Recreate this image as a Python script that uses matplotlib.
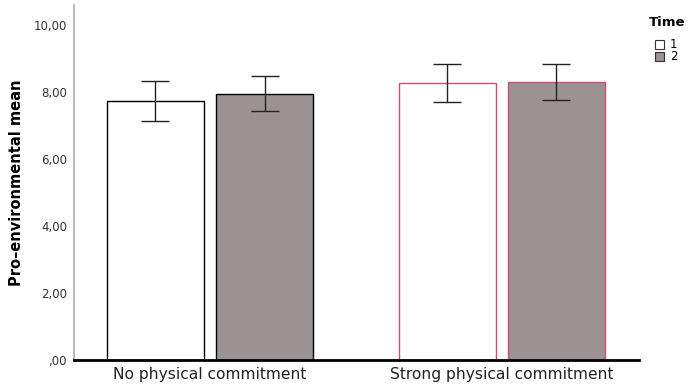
import matplotlib.pyplot as plt
import numpy as np
from matplotlib.patches import Rectangle

# group means and error half-widths per time point
groups = ['No physical commitment', 'Strong physical commitment']
times = ['1', '2']
mean_t1 = [7.73, 8.27]
mean_t2 = [7.95, 8.30]
err_t1 = [0.59, 0.58]
err_t2 = [0.53, 0.54]
yticks = [0, 2, 4, 6, 8, 10]
ytick_labels = [',00', '2,00', '4,00', '6,00', '8,00', '10,00']

fill_colors = ['white', '#9a9293']
edge_colors = ['black', '#cf4f72']

W, H = 689, 389
fig = plt.figure(figsize=(W / 100, H / 100), dpi=100)
ax = fig.add_axes([74 / W, 1 - 360 / H, 565 / W, 355 / H])

x = np.arange(len(groups))
width = 0.334
offset = 0.187

for i in range(len(groups)):
    ax.bar(x[i] - offset, mean_t1[i], width, color=fill_colors[0],
           edgecolor=edge_colors[i], linewidth=1)
    ax.bar(x[i] + offset, mean_t2[i], width, color=fill_colors[1],
           edgecolor=edge_colors[i], linewidth=1)

ax.errorbar(x - offset, mean_t1, yerr=err_t1, fmt='none', ecolor='#222222',
            elinewidth=1, capsize=10, capthick=1)
ax.errorbar(x + offset, mean_t2, yerr=err_t2, fmt='none', ecolor='#222222',
            elinewidth=1, capsize=10, capthick=1)

ax.set_xlim(-0.466, 1.470)
ax.set_ylim(0, 10.6)
ax.set_xticks(x)
ax.set_xticklabels(groups, fontsize=11.2, color='#222222')
ax.set_yticks(yticks)
ax.set_yticklabels(ytick_labels, fontsize=8.5, color='#333333')
ax.tick_params(axis='both', length=0)
ax.tick_params(axis='x', pad=5)
ax.tick_params(axis='y', pad=5)

ax.set_ylabel('Pro\u2013environmental mean', fontsize=10.5, fontweight='bold',
              labelpad=7)

for s in ['top', 'right']:
    ax.spines[s].set_visible(False)
ax.spines['left'].set_color('#aaaaaa')
ax.spines['left'].set_linewidth(1.2)
ax.spines['bottom'].set_color('black')
ax.spines['bottom'].set_linewidth(2)

# legend drawn by hand so it fits in the right margin
fig.text(649 / W, 1 - 22 / H, 'Time', fontsize=9.5, fontweight='bold',
         ha='left', va='center')
for k, lab in enumerate(times):
    yc = 44 + 12.5 * k
    fig.patches.append(Rectangle((655 / W, 1 - (yc + 4.5) / H), 9 / W, 9 / H,
                                 transform=fig.transFigure,
                                 facecolor=fill_colors[k], edgecolor='#333333',
                                 linewidth=0.8))
    fig.text(670 / W, 1 - yc / H, lab, fontsize=8.5, ha='left', va='center')

fig.savefig('out.png', dpi=100)
